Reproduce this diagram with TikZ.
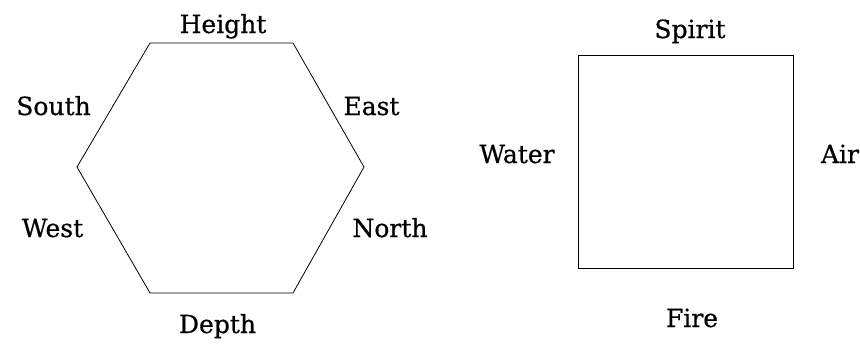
\documentclass[tikz,border=0pt]{standalone}
\usepackage{fontspec}
\setmainfont{DejaVu Serif}[FakeBold=0.6]
\begin{document}
\begin{tikzpicture}[x=1pt,y=-1pt,
  lbl/.style={anchor=base,inner sep=0pt,font=\fontsize{25}{27}\selectfont},
  edge/.style={line width=0.8pt,black}]
\useasboundingbox (0,0) rectangle (860,343);
\coordinate (h1) at (150,43);
\coordinate (h2) at (293,43);
\coordinate (h3) at (364,167);
\coordinate (h4) at (293,293);
\coordinate (h5) at (150,293);
\coordinate (h6) at (77,167);
\draw[edge] (h1) -- (h2) -- (h3) -- (h4) -- (h5) -- (h6) -- cycle;
\coordinate (s1) at (578,55);
\coordinate (s2) at (793,268);
\draw[edge] (s1) rectangle (s2);
\node[lbl] (height) at (223,33) {Height};
\node[lbl] (south) at (53.5,115) {South};
\node[lbl] (east) at (371.5,115) {East};
\node[lbl] (west) at (52.5,237) {West};
\node[lbl] (north) at (390,237) {North};
\node[lbl] (depth) at (217.5,333) {Depth};
\node[lbl] (spirit) at (690,38) {Spirit};
\node[lbl] (water) at (517,163) {Water};
\node[lbl] (air) at (840,163) {Air};
\node[lbl] (fire) at (692,327) {Fire};
\end{tikzpicture}
\end{document}
